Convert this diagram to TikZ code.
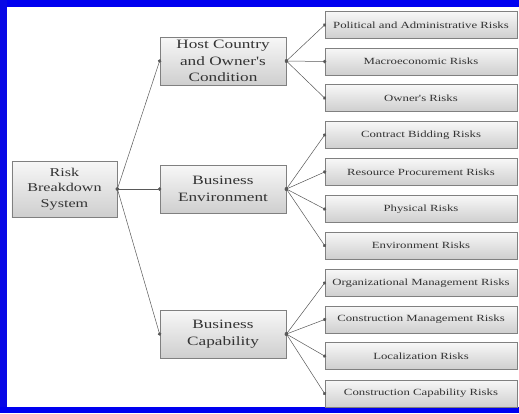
\documentclass[tikz,border=0pt]{standalone}
\usepackage{fontspec}
\newfontfamily\widefont[FakeStretch=1.35]{Liberation Serif}
\usetikzlibrary{arrows.meta}
\definecolor{frameblue}{HTML}{0000F0}
\definecolor{sideblue}{HTML}{0808E6}
\definecolor{boxline}{HTML}{808080}
\definecolor{boxtext}{HTML}{333333}

\begin{document}
\begin{tikzpicture}[x=1bp,y=-1bp,
    box/.style={draw=boxline,line width=0.8bp,top color=gray!6,bottom color=gray!38,text=boxtext,align=center,inner sep=0pt},
    sys/.style={box,minimum width=105bp,minimum height=56bp,font=\widefont\fontsize{12}{15.5}\selectfont},
    cat/.style={box,minimum width=126bp,minimum height=48bp,font=\widefont\fontsize{12.8}{16.5}\selectfont},
    leaf/.style={box,minimum width=192bp,minimum height=27bp,font=\widefont\fontsize{9.5}{11}\selectfont},
    link/.style={{Circle[length=3.5bp]}-{Circle[length=3.5bp]},shorten <=-1.75bp,shorten >=-1.75bp,gray!70!black,line width=0.5bp}
]
\useasboundingbox (0,0) rectangle (519,413);
\fill[white] (0,0) rectangle (519,413);
% blue frame, open on the right
\fill[frameblue] (0,0) rectangle (519,6.5);
\fill[sideblue] (0,0) rectangle (7,413);
\fill[frameblue] (0,407) rectangle (519,413);

\node[sys] (rbs) at (64.5,189) {Risk\\Breakdown\\System};

\node[cat] (host) at (223,61)  {Host Country\\and Owner's\\Condition};
\node[cat] (env)  at (223,189) {Business\\Environment};
\node[cat] (cap)  at (223,334) {Business\\Capability};

\node[leaf] (pol)  at (421,25)    {Political and Administrative Risks};
\node[leaf] (mac)  at (421,61.5)  {Macroeconomic Risks};
\node[leaf] (own)  at (421,98)    {Owner's Risks};
\node[leaf] (bid)  at (421,135)   {Contract Bidding Risks};
\node[leaf] (res)  at (421,172)   {Resource Procurement Risks};
\node[leaf] (phy)  at (421,209)   {Physical Risks};
\node[leaf] (envr) at (421,245.5) {Environment Risks};
\node[leaf] (org)  at (421,283)   {Organizational Management Risks};
\node[leaf] (cmr)  at (421,319.5) {Construction Management Risks};
\node[leaf] (loc)  at (421,356)   {Localization Risks};
\node[leaf] (ccr)  at (421,393.5) {Construction Capability Risks};

\draw[link] (rbs.east) -- (host.west);
\draw[link] (rbs.east) -- (env.west);
\draw[link] (rbs.east) -- (cap.west);

\draw[link] (host.east) -- (pol.west);
\draw[link] (host.east) -- (mac.west);
\draw[link] (host.east) -- (own.west);

\draw[link] (env.east) -- (bid.west);
\draw[link] (env.east) -- (res.west);
\draw[link] (env.east) -- (phy.west);
\draw[link] (env.east) -- (envr.west);

\draw[link] (cap.east) -- (org.west);
\draw[link] (cap.east) -- (cmr.west);
\draw[link] (cap.east) -- (loc.west);
\draw[link] (cap.east) -- (ccr.west);
\end{tikzpicture}
\end{document}
